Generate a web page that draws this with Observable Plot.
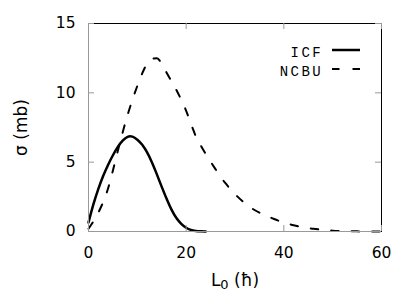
<!DOCTYPE html>
<html><head><meta charset="utf-8">
<script src="https://cdn.jsdelivr.net/npm/d3@7"></script>
<script src="https://cdn.jsdelivr.net/npm/@observablehq/plot@0.6"></script>
<style>
body{margin:0;background:#fff}
svg{display:block}
</style>
</head><body><div id="chart"></div>
<script>
// ICF (solid) cross-section vs L0
const icfL     = [0,1,2,3,4,5,6,7,8,8.5,9,10,11,12,13,14,15,16,17,18,19,20,21,22,23,24];
const icfSigma = [0.65,1.95,3.05,4.0,4.8,5.5,6.1,6.55,6.83,6.87,6.84,6.62,6.25,5.7,4.98,4.12,3.22,2.36,1.58,0.97,0.55,0.27,0.11,0.04,0.01,0.0];
// NCBU (dashed)
const ncbuL     = [0,2,4,5,6,8,10,11,12,13,14,15,16,18,20,21,22,23,24,26,28,30,32,34,36,38,40,42,44,46,48,50,52,55,60];
const ncbuSigma = [0.2,1.35,3.1,4.4,5.8,8.4,10.5,11.4,12.1,12.45,12.5,12.1,11.45,10.2,8.7,7.75,6.85,6.2,5.6,4.5,3.5,2.7,2.05,1.55,1.2,0.9,0.65,0.45,0.3,0.2,0.12,0.06,0.03,0.01,0.0];
const xTicks = [0,20,40,60];
const yTicks = [0,5,10,15];
const seriesNames = ["ICF","NCBU"];
const xLabel = "L0 (ħ)";
const yLabel = "σ (mb)";

(function(){
const icf = icfL.map((L,i)=>({L, s: icfSigma[i]}));
const ncbu = ncbuL.map((L,i)=>({L, s: ncbuSigma[i]}));

const W = 415, H = 291, mL = 88, mR = 34, mT = 23, mB = 60;
const fw = W - mL - mR, fh = H - mT - mB, tk = 6;

const plot = Plot.plot({
  width: W, height: H,
  marginLeft: mL, marginRight: mR, marginTop: mT, marginBottom: mB,
  style: {fontFamily: "DejaVu Sans", fontSize: "15.5px", color: "#000", background: "#fff"},
  x: {domain: [0, 60]},
  y: {domain: [0, 15]},
  marks: [
    Plot.line(ncbu, {x: "L", y: "s", stroke: "#000", strokeWidth: 2, strokeDasharray: "7.5,13", curve: "monotone-x"}),
    Plot.line(icf, {x: "L", y: "s", stroke: "#000", strokeWidth: 2.5, curve: "monotone-x"}),
    Plot.frame({stroke: "#000"}),
    Plot.ruleX([0], {stroke: "#999"}),
    Plot.ruleY([0], {stroke: "#999"}),
    Plot.tickX(xTicks, {x: d => d, stroke: "#999", insetTop: fh - tk}),
    Plot.tickX(xTicks, {x: d => d, stroke: "#999", insetBottom: fh - tk}),
    Plot.tickY(yTicks, {y: d => d, stroke: "#999", insetRight: fw - tk}),
    Plot.tickY(yTicks, {y: d => d, stroke: "#999", insetLeft: fw - tk}),
    Plot.axisX(xTicks, {tickSize: 0, tickPadding: 15, label: xLabel, labelAnchor: "center", labelArrow: "none", labelOffset: 54}),
    Plot.axisY(yTicks, {tickSize: 0, tickPadding: 13, label: yLabel, labelAnchor: "center", labelArrow: "none", labelOffset: 74})
  ]
});
document.getElementById("chart").appendChild(plot);

const svg = d3.select(plot);
const xl = svg.select('g[aria-label="x-axis label"] text');
if (!xl.empty()) {
  xl.text(null).attr("font-size", 17);
  xl.append("tspan").text(xLabel[0]);
  xl.append("tspan").attr("dy", 3).attr("font-size", 13).text(xLabel[1]);
  xl.append("tspan").attr("dy", -3).text(xLabel.slice(2));
}
svg.select('g[aria-label="y-axis label"] text').attr("font-size", 17);

const xs = plot.scale("x"), ys = plot.scale("y");
const fRight = xs.range[1], fTop = ys.range[1];
const lg = svg.append("g");
seriesNames.forEach((name, i) => {
  const yy = fTop + 29 + i * 19;
  lg.append("text").attr("x", fRight - 58).attr("y", yy).attr("dy", "0.35em")
    .attr("text-anchor", "end").attr("font-family", "Liberation Mono").attr("font-size", 14)
    .attr("letter-spacing", "2.4px").text(name);
  lg.append("line").attr("x1", fRight - 49).attr("x2", fRight - 21).attr("y1", yy - 2).attr("y2", yy - 2)
    .attr("stroke", "#000").attr("stroke-width", i === 0 ? 2.5 : 2)
    .attr("stroke-dasharray", i === 0 ? null : "7.5,13");
});
})();
</script>
</body></html>
